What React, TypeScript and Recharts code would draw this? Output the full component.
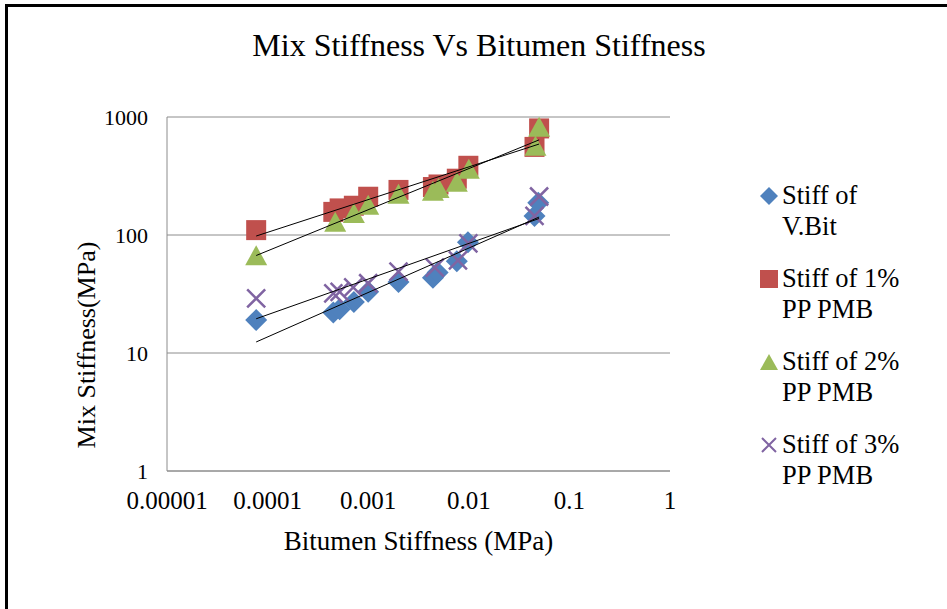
import { ScatterChart, Scatter, XAxis, YAxis, CartesianGrid } from 'recharts';

const FONT = '"Liberation Serif", "Times New Roman", serif';

const xTicks = [0.00001, 0.0001, 0.001, 0.01, 0.1, 1];
const xTickLabels = ['0.00001', '0.0001', '0.001', '0.01', '0.1', '1'];
const yTicks = [1, 10, 100, 1000];
const yTickLabels = ['1', '10', '100', '1000'];

// bitumen stiffness (MPa) / mix stiffness (MPa), one pair of arrays per binder
const vBitX = [0.000077, 0.00045, 0.00052, 0.00072, 0.001, 0.002, 0.0044, 0.0049, 0.0076, 0.0098, 0.045, 0.049];
const vBitY = [19, 22, 23.5, 27, 33, 40, 43.5, 48, 60, 87, 145, 188];

const pp1X = [0.000077, 0.00045, 0.00052, 0.00072, 0.001, 0.002, 0.0044, 0.005, 0.0076, 0.0099, 0.045, 0.05];
const pp1Y = [110, 157, 168, 177, 211, 241, 255, 268, 300, 386, 558, 800];

const pp2X = [0.000077, 0.00047, 0.00072, 0.001, 0.002, 0.0044, 0.005, 0.0076, 0.01, 0.046, 0.05];
const pp2Y = [66, 127, 151, 177, 219, 232, 245, 277, 357, 560, 811];

const pp3X = [0.000077, 0.00045, 0.00052, 0.00071, 0.001, 0.002, 0.0046, 0.0078, 0.0099, 0.045, 0.05];
const pp3Y = [29, 32, 33, 36, 39, 49, 53, 61, 85, 145, 212];

const trendX = [0.000077, 0.05];
const trendVBit = [12.4, 142];
const trendPP1 = [98, 590];
const trendPP2 = [67, 640];
const trendPP3 = [19.5, 138];

const BLUE = '#4F81BD';
const RED = '#C0504D';
const GREEN = '#9BBB59';
const PURPLE = '#8064A2';

const toPoints = (xs: number[], ys: number[]) => xs.map((x, i) => ({ x, y: ys[i] }));

const Diamond = ({ cx, cy }: any) => (
  <path d={`M${cx},${cy - 11}L${cx + 11},${cy}L${cx},${cy + 11}L${cx - 11},${cy}Z`} fill={BLUE} />
);
const Square = ({ cx, cy }: any) => <rect x={cx - 10} y={cy - 10} width={20} height={20} fill={RED} />;
const Triangle = ({ cx, cy }: any) => (
  <path d={`M${cx},${cy - 11}L${cx + 11},${cy + 9}L${cx - 11},${cy + 9}Z`} fill={GREEN} />
);
const Cross = ({ cx, cy }: any) => (
  <path d={`M${cx - 9},${cy - 9}L${cx + 9},${cy + 9}M${cx + 9},${cy - 9}L${cx - 9},${cy + 9}`} stroke={PURPLE} strokeWidth={2.5} fill="none" />
);
const NoDot = () => <g />;

const legendItems = [
  { lines: ['Stiff of', 'V.Bit'], marker: 'diamond' },
  { lines: ['Stiff of 1%', 'PP PMB'], marker: 'square' },
  { lines: ['Stiff of 2%', 'PP PMB'], marker: 'triangle' },
  { lines: ['Stiff of 3%', 'PP PMB'], marker: 'cross' },
];

const LegendMarker = ({ kind }: { kind: string }) => (
  <svg width={18} height={18} style={{ position: 'absolute', left: 0, top: 7 }}>
    {kind === 'diamond' && <path d="M9,0L18,9L9,18L0,9Z" fill={BLUE} />}
    {kind === 'square' && <rect x={0} y={0} width={18} height={18} fill={RED} />}
    {kind === 'triangle' && <path d="M9,1L18,17L0,17Z" fill={GREEN} />}
    {kind === 'cross' && <path d="M2,2L16,16M16,2L2,16" stroke={PURPLE} strokeWidth={2} />}
  </svg>
);

export default function App() {
  return (
    <div style={{ position: 'absolute', left: 0, top: 0, width: 947, height: 609, background: '#fff', fontFamily: FONT }}>
      <div style={{ position: 'absolute', left: 5, top: 4, right: 0, bottom: 0, borderTop: '3px solid #000', borderLeft: '3px solid #000' }} />
      <div style={{ position: 'absolute', left: 0, top: 27, width: 958, textAlign: 'center', fontSize: 32, color: '#000', lineHeight: '36px' }}>
        Mix Stiffness Vs Bitumen Stiffness
      </div>
      <ScatterChart width={947} height={609} margin={{ top: 117, right: 277, bottom: 108, left: 107 }} style={{ position: 'absolute', left: 0, top: 0 }}>
        <CartesianGrid vertical={false} stroke="#8c8c8c" />
        <XAxis
          type="number"
          dataKey="x"
          scale="log"
          domain={[0.00001, 1]}
          ticks={xTicks}
          interval={0}
          allowDataOverflow
          height={30}
          axisLine={{ stroke: '#8c8c8c' }}
          tickLine={false}
          tickSize={0}
          tickMargin={20}
          tick={{ fill: '#000', fontSize: 25, fontFamily: FONT }}
          tickFormatter={(v: number) => xTickLabels[xTicks.indexOf(v)] ?? String(v)}
          label={(props: any) => {
            const { viewBox } = props;
            if (!viewBox) return null;
            return (
              <text x={viewBox.x + viewBox.width / 2} y={541} textAnchor="middle" dominantBaseline="central" fontSize={27} fontFamily={FONT} fill="#000">
                Bitumen Stiffness (MPa)
              </text>
            );
          }}
        />
        <YAxis
          type="number"
          dataKey="y"
          scale="log"
          domain={[1, 1000]}
          ticks={yTicks}
          interval={0}
          allowDataOverflow
          width={60}
          axisLine={{ stroke: '#8c8c8c' }}
          tickLine={false}
          tickSize={0}
          tickMargin={19}
          tick={{ fill: '#000', fontSize: 22, fontFamily: FONT }}
          tickFormatter={(v: number) => yTickLabels[yTicks.indexOf(v)] ?? String(v)}
          label={(props: any) => {
            const { viewBox } = props;
            if (!viewBox) return null;
            const lx = 86;
            const ly = 345;
            return (
              <text x={lx} y={ly} textAnchor="middle" dominantBaseline="central" fontSize={26} fontFamily={FONT} fill="#000" transform={`rotate(-90, ${lx}, ${ly})`}>
                Mix Stiffness(MPa)
              </text>
            );
          }}
        />
        <Scatter name="Stiff of V.Bit" data={toPoints(vBitX, vBitY)} shape={Diamond} isAnimationActive={false} />
        <Scatter name="Stiff of 1% PP PMB" data={toPoints(pp1X, pp1Y)} shape={Square} isAnimationActive={false} />
        <Scatter name="Stiff of 2% PP PMB" data={toPoints(pp2X, pp2Y)} shape={Triangle} isAnimationActive={false} />
        <Scatter name="Stiff of 3% PP PMB" data={toPoints(pp3X, pp3Y)} shape={Cross} isAnimationActive={false} />
        <Scatter data={toPoints(trendX, trendVBit)} line={{ stroke: '#000', strokeWidth: 1 }} shape={NoDot} isAnimationActive={false} />
        <Scatter data={toPoints(trendX, trendPP1)} line={{ stroke: '#000', strokeWidth: 1 }} shape={NoDot} isAnimationActive={false} />
        <Scatter data={toPoints(trendX, trendPP2)} line={{ stroke: '#000', strokeWidth: 1 }} shape={NoDot} isAnimationActive={false} />
        <Scatter data={toPoints(trendX, trendPP3)} line={{ stroke: '#000', strokeWidth: 1 }} shape={NoDot} isAnimationActive={false} />
      </ScatterChart>
      <div style={{ position: 'absolute', left: 760, top: 180, width: 185 }}>
        {legendItems.map((item) => (
          <div key={item.marker} style={{ position: 'relative', height: 83 }}>
            <LegendMarker kind={item.marker} />
            <div style={{ position: 'absolute', left: 22, top: 0, fontSize: 26.5, lineHeight: '31px', color: '#000', whiteSpace: 'nowrap' }}>
              {item.lines.map((l) => (
                <div key={l}>{l}</div>
              ))}
            </div>
          </div>
        ))}
      </div>
    </div>
  );
}
